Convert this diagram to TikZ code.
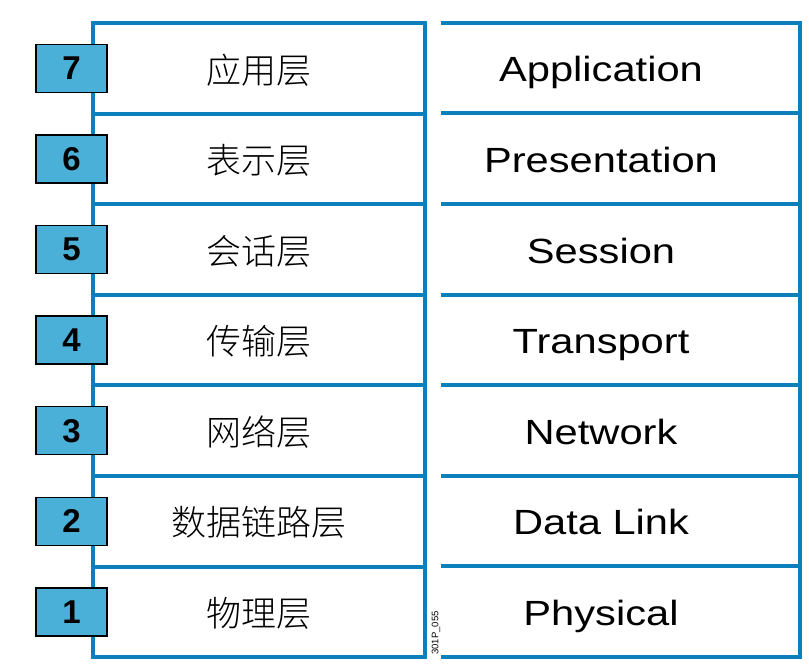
\documentclass[tikz,border=0pt]{standalone}
\usepackage{fontspec}
\setmainfont{Liberation Sans}
\newfontfamily\cjk{Noto Sans CJK SC Light}
\newfontfamily\engfont[FakeStretch=1.19]{Liberation Sans}
\definecolor{osiline}{RGB}{12,128,186}
\definecolor{osifill}{RGB}{75,176,216}
\begin{document}
\begin{tikzpicture}[x=1pt,y=-1pt,
  cell/.style={draw=osiline,line width=4pt,minimum width=332pt,minimum height=90.6pt,inner sep=0pt},
  zhtext/.style={inner sep=0pt,font=\cjk\fontsize{35}{38}\selectfont},
  engcell/.style={minimum width=361pt,minimum height=90.6pt,inner sep=0pt},
  engtext/.style={inner sep=0pt,anchor=base,font=\engfont\fontsize{35}{40}\selectfont},
  numbox/.style={draw=black,line width=1.5pt,fill=osifill,minimum width=71pt,minimum height=48pt,
    inner sep=0pt,font=\bfseries\fontsize{33}{36}\selectfont},
  rline/.style={draw=osiline,line width=4pt}]
\useasboundingbox (0,0) rectangle (809,667);
\foreach \n/\zh/\en [count=\i] in {7/应用层/Application,6/表示层/Presentation,5/会话层/Session,4/传输层/Transport,3/网络层/Network,2/数据链路层/Data Link,1/物理层/Physical}{
  \pgfmathsetmacro\yc{23+90.6*(\i-0.5)}
  \node[cell] (zh\n) at (259,\yc) {};
  \node[zhtext] (zt\n) at (259,\yc+1.5) {\zh};
  \node[numbox] (num\n) at (71.5,\yc) {\n};
  \node[engcell] (cell\n) at (621.5,\yc) {};
  \node[engtext] (en\n) at (601,\yc+13.5) {\en};
  \draw[rline] (cell\n.north west) -- (cell\n.north east);
}
\draw[rline] (cell1.south west) -- (cell1.south east);
\draw[rline] ([xshift=-2pt]cell7.north east) -- ([xshift=-2pt]cell1.south east);
\node[rotate=90,inner sep=0pt,font=\fontsize{9.5}{11}\selectfont] (code) at (436,633) {301P\_055};
\end{tikzpicture}
\end{document}
